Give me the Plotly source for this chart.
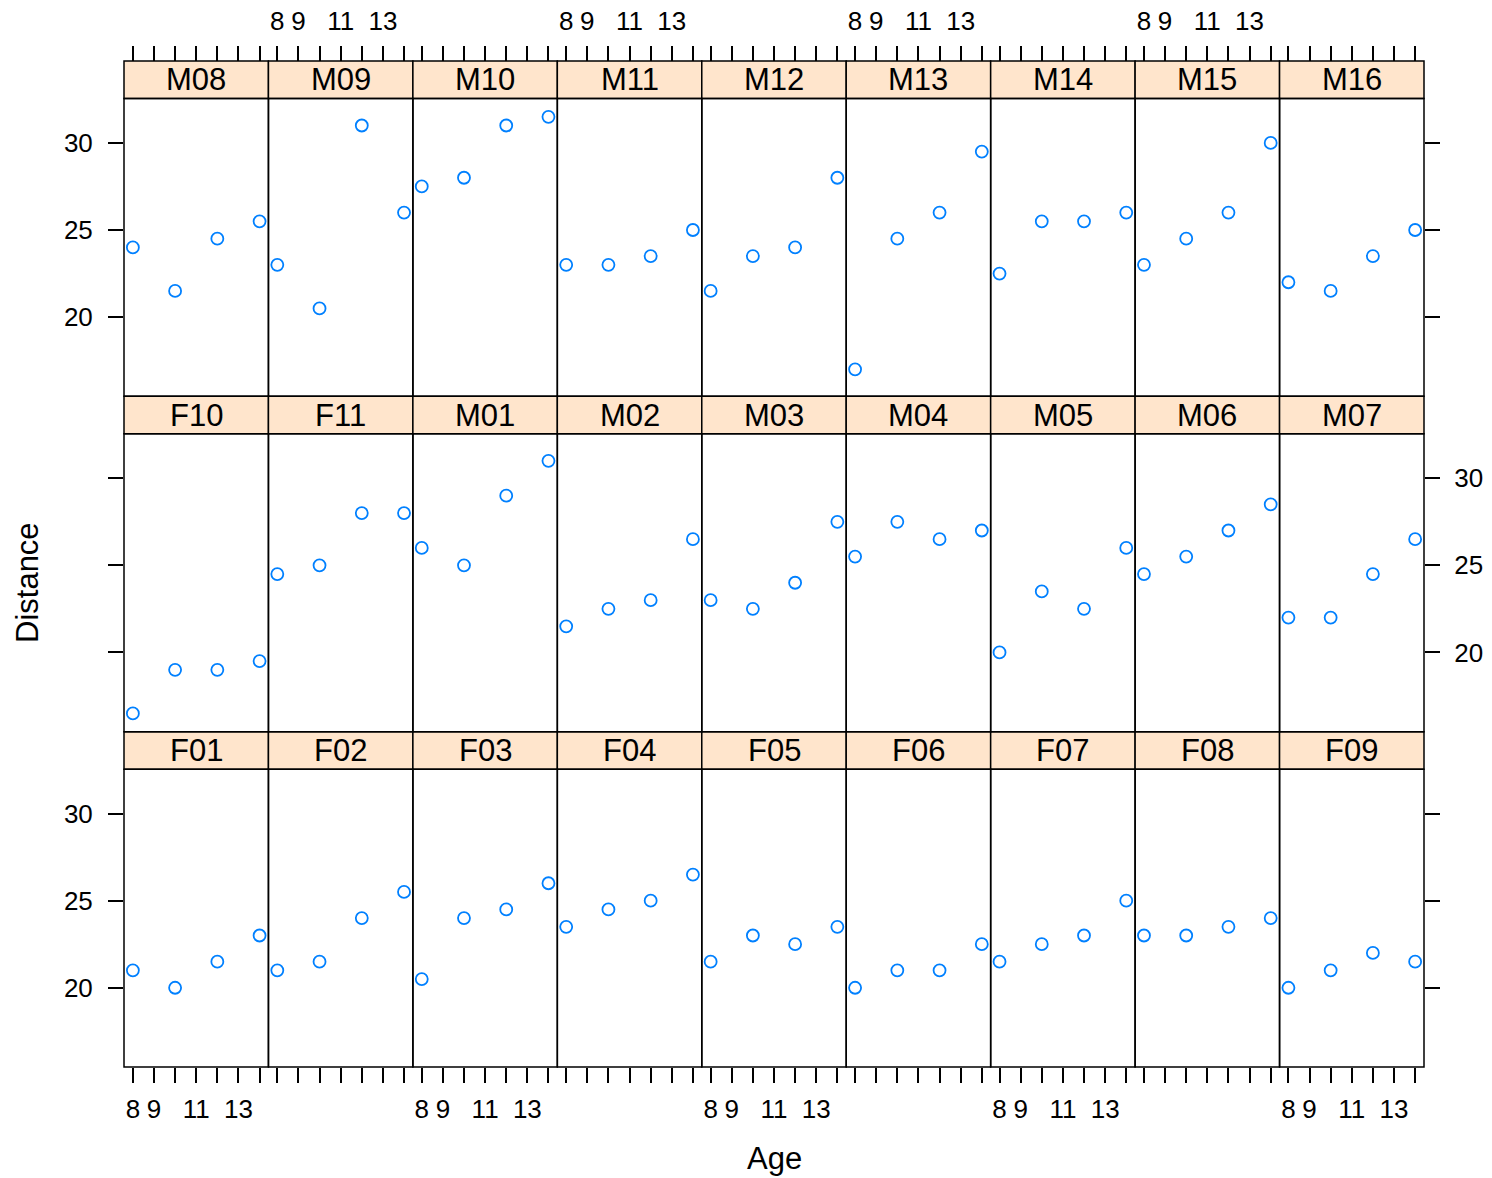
import plotly.graph_objects as go

# ---- data (Orthodont: distance by age, one panel per subject) ----
ages = [8, 10, 12, 14]
subjects = ["F01", "F02", "F03", "F04", "F05", "F06", "F07", "F08", "F09",
            "F10", "F11", "M01", "M02", "M03", "M04", "M05", "M06", "M07",
            "M08", "M09", "M10", "M11", "M12", "M13", "M14", "M15", "M16"]
dist_age8 = [21, 21, 20.5, 23.5, 21.5, 20, 21.5, 23, 20,
             16.5, 24.5, 26, 21.5, 23, 25.5, 20, 24.5, 22,
             24, 23, 27.5, 23, 21.5, 17, 22.5, 23, 22]
dist_age10 = [20, 21.5, 24, 24.5, 23, 21, 22.5, 23, 21,
              19, 25, 25, 22.5, 22.5, 27.5, 23.5, 25.5, 22,
              21.5, 20.5, 28, 23, 23.5, 24.5, 25.5, 24.5, 21.5]
dist_age12 = [21.5, 24, 24.5, 25, 22.5, 21, 23, 23.5, 22,
              19, 28, 29, 23, 24, 26.5, 22.5, 27, 24.5,
              24.5, 31, 31, 23.5, 24, 26, 25.5, 26, 23.5]
dist_age14 = [23, 25.5, 26, 26.5, 23.5, 22.5, 25, 24, 21.5,
              19.5, 28, 31, 26.5, 27.5, 27, 26, 28.5, 26.5,
              25.5, 26, 31.5, 25, 28, 29.5, 26, 30, 25]
x_tickvals = [8, 9, 10, 11, 12, 13, 14]
x_ticktext = ["8", "9", "", "11", "", "13", ""]
y_tickvals = [20, 25, 30]

# ---- layout geometry ----
W, H = 1492, 1178
ML, MR, MT, MB = 124, 68, 61, 111
PW = W - ML - MR
PH = H - MT - MB
NCOL, NROW = 9, 3
STRIP = 37.5 / PH

xmin, xmax = 7.58, 14.42
allv = dist_age8 + dist_age10 + dist_age12 + dist_age14
lo, hi = min(allv), max(allv)
pad = 0.07 * (hi - lo)
ymin, ymax = lo - pad, hi + pad

FONT = "Liberation Sans, Arial, sans-serif"
BLUE = "#0080ff"
TICKFONT = dict(size=26, color="black", family=FONT)

fig = go.Figure()
shapes = []
annotations = []

for i, subj in enumerate(subjects):
    row_b = i // NCOL          # 0 = bottom row
    col = i % NCOL
    r = NROW - 1 - row_b       # 0 = top row
    x0 = col / NCOL
    x1 = (col + 1) / NCOL
    blk_top = 1 - r / NROW
    blk_bot = 1 - (r + 1) / NROW
    strip_bot = blk_top - STRIP
    k = i + 1
    xa = "x" if k == 1 else f"x{k}"
    ya = "y" if k == 1 else f"y{k}"
    xname = "xaxis" if k == 1 else f"xaxis{k}"
    yname = "yaxis" if k == 1 else f"yaxis{k}"

    yvals = [dist_age8[i], dist_age10[i], dist_age12[i], dist_age14[i]]
    fig.add_trace(go.Scatter(
        x=ages, y=yvals, mode="markers", xaxis=xa, yaxis=ya,
        marker=dict(symbol="circle-open", size=12, color=BLUE,
                    line=dict(width=1.8, color=BLUE)),
        showlegend=False, hoverinfo="skip"))

    # x axis
    xa_cfg = dict(domain=[x0, x1], range=[xmin, xmax], showgrid=False,
                  zeroline=False, showline=False, tickvals=x_tickvals,
                  ticktext=x_ticktext, tickfont=TICKFONT, automargin=False,
                  tickcolor="black", tickwidth=1.5, ticklen=15, fixedrange=True)
    if r == 0:
        xa_cfg.update(side="top", anchor="free", position=1.0, ticks="outside",
                      showticklabels=(col % 2 == 1), ticklabelstandoff=6)
    elif r == NROW - 1:
        xa_cfg.update(side="bottom", anchor=ya, ticks="outside",
                      showticklabels=(col % 2 == 0), ticklabelstandoff=4)
    else:
        xa_cfg.update(anchor=ya, ticks="", showticklabels=False)
    fig.layout[xname] = xa_cfg

    # y axis
    ya_cfg = dict(domain=[blk_bot, strip_bot], range=[ymin, ymax], showgrid=False,
                  zeroline=False, showline=False, tickvals=y_tickvals,
                  tickfont=TICKFONT, automargin=False,
                  tickcolor="black", tickwidth=1.5, ticklen=15, anchor=xa,
                  fixedrange=True)
    if col == 0:
        ya_cfg.update(side="left", ticks="outside", showticklabels=(r != 1),
                      ticklabelstandoff=10)
    elif col == NCOL - 1:
        ya_cfg.update(side="right", ticks="outside", showticklabels=(r == 1),
                      ticklabelstandoff=9)
    else:
        ya_cfg.update(ticks="", showticklabels=False)
    fig.layout[yname] = ya_cfg

    # panel border
    shapes.append(dict(type="rect", xref="paper", yref="paper",
                       x0=x0, x1=x1, y0=blk_bot, y1=strip_bot,
                       line=dict(color="black", width=1.5), fillcolor="rgba(0,0,0,0)",
                       layer="above"))
    # strip
    shapes.append(dict(type="rect", xref="paper", yref="paper",
                       x0=x0, x1=x1, y0=strip_bot, y1=blk_top,
                       line=dict(color="black", width=1.5), fillcolor="#ffe5cc",
                       layer="below"))
    annotations.append(dict(text=subj, xref="paper", yref="paper",
                            x=(x0 + x1) / 2, y=(strip_bot + blk_top) / 2,
                            xanchor="center", yanchor="middle", showarrow=False,
                            font=dict(size=31, color="black", family=FONT)))

def px_x(p):
    return (p - ML) / PW

def px_y(p):
    return 1 - (p - MT) / PH

annotations.append(dict(text="Age", xref="paper", yref="paper",
                        x=px_x(774), y=px_y(1158), xanchor="center", yanchor="middle",
                        showarrow=False, font=dict(size=31, color="black", family=FONT)))
annotations.append(dict(text="Distance", xref="paper", yref="paper",
                        x=px_x(27), y=px_y(583), xanchor="center", yanchor="middle",
                        textangle=-90, showarrow=False,
                        font=dict(size=31, color="black", family=FONT)))

fig.update_layout(width=W, height=H, margin=dict(l=ML, r=MR, t=MT, b=MB, pad=0,
                                                 autoexpand=False),
                  paper_bgcolor="white", plot_bgcolor="white",
                  shapes=shapes, annotations=annotations,
                  font=dict(family=FONT, color="black"), showlegend=False)

fig.write_html("out.html", config={"displayModeBar": False})

# remove the browser's default page margin so the figure sits at (0, 0)
with open("out.html", "r", encoding="utf-8") as f:
    html = f.read()
html = html.replace("<head>", "<head><style>html,body{margin:0;padding:0;overflow:hidden;}</style>", 1)
with open("out.html", "w", encoding="utf-8") as f:
    f.write(html)
